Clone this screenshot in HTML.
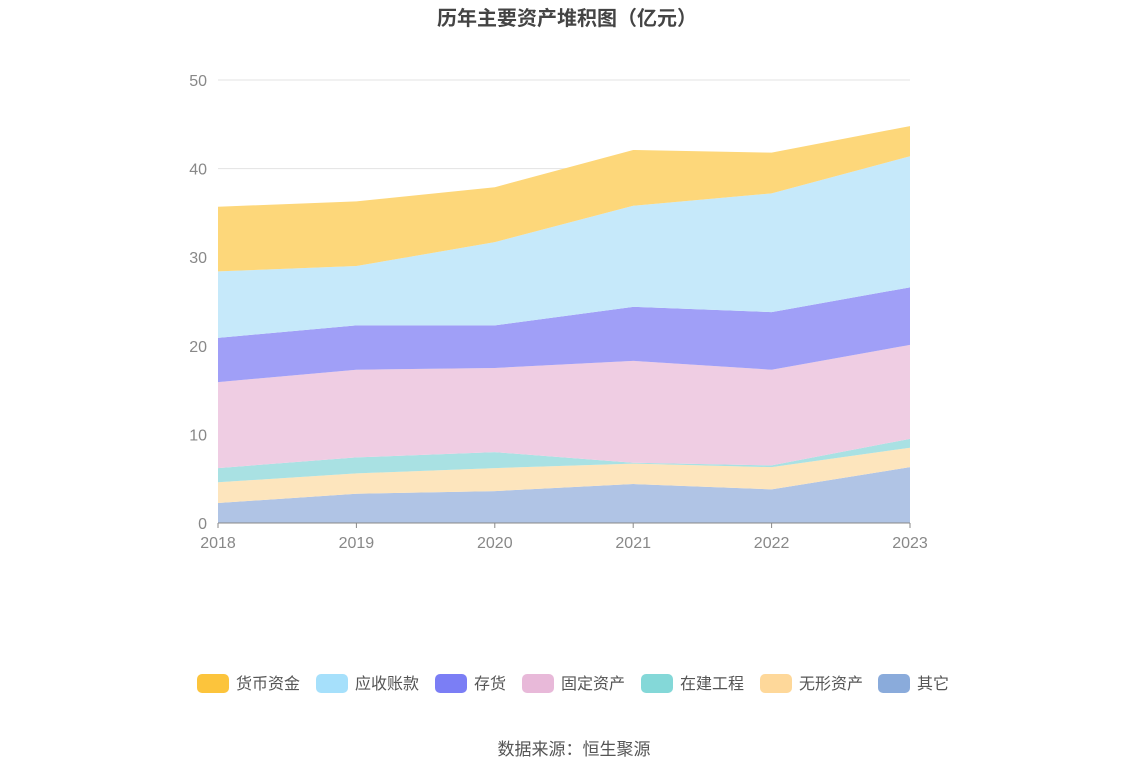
<!DOCTYPE html>
<html><head><meta charset="utf-8"><style>
body{margin:0;background:#fff;font-family:"Liberation Sans","Noto Sans CJK SC",sans-serif;}
svg text{font-family:"Liberation Sans","Noto Sans CJK SC",sans-serif;}
</style></head><body>
<svg id="chart" width="1148" height="776" xmlns="http://www.w3.org/2000/svg">
<text x="567" y="25" text-anchor="middle" font-size="20" font-weight="bold" fill="#444">历年主要资产堆积图（亿元）</text>
<g id="grid"></g><g id="areas"></g><g id="axes"></g><g id="legend"></g>
<text x="574" y="755" text-anchor="middle" font-size="17" fill="#555">数据来源：恒生聚源</text>
</svg>
<script>
const categories=["2018","2019","2020","2021","2022","2023"];
const seriesNames=["其它","无形资产","在建工程","固定资产","存货","应收账款","货币资金"];
const other=[2.26,3.3,3.6,4.4,3.8,6.3];
const intangible=[2.34,2.3,2.6,2.3,2.5,2.2];
const construction=[1.6,1.8,1.8,0.1,0.2,1.0];
const fixedAssets=[9.7,9.9,9.5,11.5,10.8,10.6];
const inventory=[5.0,5.0,4.8,6.1,6.5,6.5];
const receivables=[7.5,6.7,9.4,11.4,13.4,14.8];
const cash=[7.3,7.3,6.2,6.3,4.6,3.4];
const yTicks=[0,10,20,30,40,50];
const series=[other,intangible,construction,fixedAssets,inventory,receivables,cash];
const fills=["#b0c4e5","#fde5bd","#a9e1e3","#efcde3","#a09ff7","#c6e9fa","#fdd77a"];
const legendColors=["#8aabdb","#fed89a","#84d8d8","#e8b9d9","#7b7ef5","#a6e0fb","#fcc43c"];
const NS="http://www.w3.org/2000/svg";
const x=i=>218+i*(910-218)/(categories.length-1);
const y=v=>523-v*(523-80)/50;
function mk(t,a,p){const e=document.createElementNS(NS,t);for(const k in a)e.setAttribute(k,a[k]);p.appendChild(e);return e;}
const grid=document.getElementById('grid'),axes=document.getElementById('axes'),areas=document.getElementById('areas'),legend=document.getElementById('legend');
yTicks.forEach(t=>{
 if(t>0){const l=mk('line',{x1:218,x2:910,y1:y(t),y2:y(t),stroke:'#e3e3e3'},grid);
 
 }
 const tx=mk('text',{x:207,y:y(t)+6,'text-anchor':'end','font-size':16,fill:'#888'},axes);tx.textContent=t;
 
 
});
let base=categories.map(()=>0);
series.forEach((s,k)=>{
 const top=base.map((b,i)=>b+s[i]);
 let d='M'+top.map((v,i)=>x(i)+','+y(v)).join('L');
 for(let i=categories.length-1;i>=0;i--)d+='L'+x(i)+','+y(base[i]);
 const p=mk('path',{d:d+'Z',fill:fills[k],stroke:'none'},areas);
 
 
 base=top;
});
mk('line',{x1:218,x2:910,y1:523,y2:523,stroke:'#888'},axes);
categories.forEach((c,i)=>{
 mk('line',{x1:x(i),x2:x(i),y1:523,y2:528,stroke:'#888'},axes);
 const t=mk('text',{x:x(i),y:548,'text-anchor':'middle','font-size':16,fill:'#888'},axes);t.textContent=c;
 
 
});
const lx=[197,316,435,522,641,760,878];
for(let j=0;j<7;j++){
 const k=6-j;
 const g=mk('g',{},legend);
 
 
 mk('rect',{x:lx[j],y:674,width:32,height:19,rx:5,fill:legendColors[k]},g);
 const t=mk('text',{x:lx[j]+39,y:689,'font-size':16,fill:'#555'},g);t.textContent=seriesNames[k];
}
</script>
</body></html>
